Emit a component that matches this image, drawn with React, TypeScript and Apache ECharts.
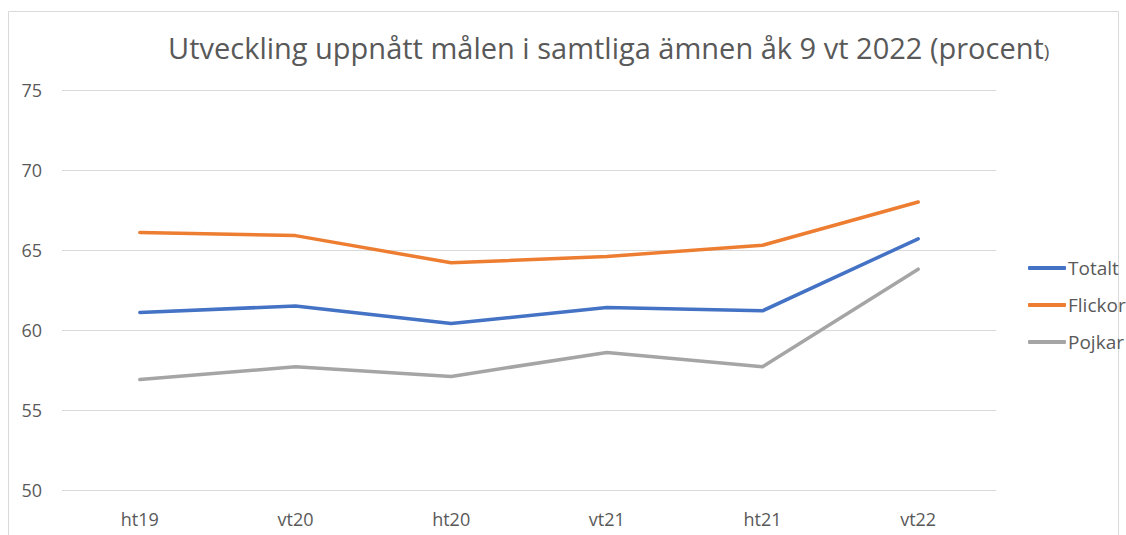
import React, { useEffect, useRef } from "react";
import * as echarts from "echarts";

const categories = ["ht19", "vt20", "ht20", "vt21", "ht21", "vt22"];
const totalt = [61.1, 61.5, 60.4, 61.4, 61.2, 65.7];
const flickor = [66.1, 65.9, 64.2, 64.6, 65.3, 68.0];
const pojkar = [56.9, 57.7, 57.1, 58.6, 57.7, 63.8];
const seriesNames = ["Totalt", "Flickor", "Pojkar"];
const colors = ["#4472C4", "#ED7D31", "#A5A5A5"];

export default function App() {
  const ref = useRef<HTMLDivElement>(null);
  useEffect(() => {
    if (!ref.current) return;
    const chart = echarts.init(ref.current, undefined, { renderer: "svg" });
    const font = "'Open Sans', Lato, sans-serif";
    const mk = (name: string, data: number[], color: string) => ({
      name,
      type: "line",
      data,
      symbol: "none",
      lineStyle: { width: 3.5, color, cap: "round", join: "round" },
      itemStyle: { color },
    });
    chart.setOption({
      animation: false,
      backgroundColor: "#ffffff",
      textStyle: { fontFamily: font },
      title: {
        text: "{a|Utveckling uppnått målen i samtliga ämnen åk 9 vt 2022 (procent}{b|)}",
        left: 163,
        top: 28,
        textStyle: {
          rich: {
            a: { fontFamily: font, fontSize: 29, fontWeight: "normal", color: "#595959" },
            b: { fontFamily: font, fontSize: 19, fontWeight: "normal", color: "#595959", verticalAlign: "bottom", padding: [0, 0, 2, 0] },
          },
        },
      },
      graphic: [
        {
          type: "rect",
          shape: { x: 8.5, y: 11.5, width: 1110, height: 540 },
          style: { fill: "none", stroke: "#d9d9d9", lineWidth: 1 },
          silent: true,
          z: -1,
        },
      ],
      legend: {
        orient: "vertical",
        left: 1023,
        top: 253,
        itemWidth: 38,
        itemHeight: 4,
        itemGap: 17,
        icon: "roundRect",
        data: seriesNames,
        textStyle: { fontFamily: font, fontSize: 19, color: "#595959", lineHeight: 20, padding: [0, 0, 0, -3] },
      },
      grid: { left: 62, right: 130, top: 90, bottom: 45 },
      xAxis: {
        type: "category",
        data: categories,
        boundaryGap: true,
        axisLine: { show: false },
        axisTick: { show: false },
        axisLabel: { fontFamily: font, fontSize: 18, color: "#595959", margin: 20 },
      },
      yAxis: {
        type: "value",
        min: 50,
        max: 75,
        interval: 5,
        axisLine: { show: false },
        axisTick: { show: false },
        splitLine: { lineStyle: { color: "#d9d9d9", width: 1 } },
        axisLabel: { fontFamily: font, fontSize: 18, color: "#595959", margin: 20 },
      },
      series: [mk(seriesNames[0], totalt, colors[0]), mk(seriesNames[1], flickor, colors[1]), mk(seriesNames[2], pojkar, colors[2])],
    });
    return () => chart.dispose();
  }, []);
  return <div ref={ref} style={{ position: "fixed", left: 0, top: 0, width: 1126, height: 535 }} />;
}
